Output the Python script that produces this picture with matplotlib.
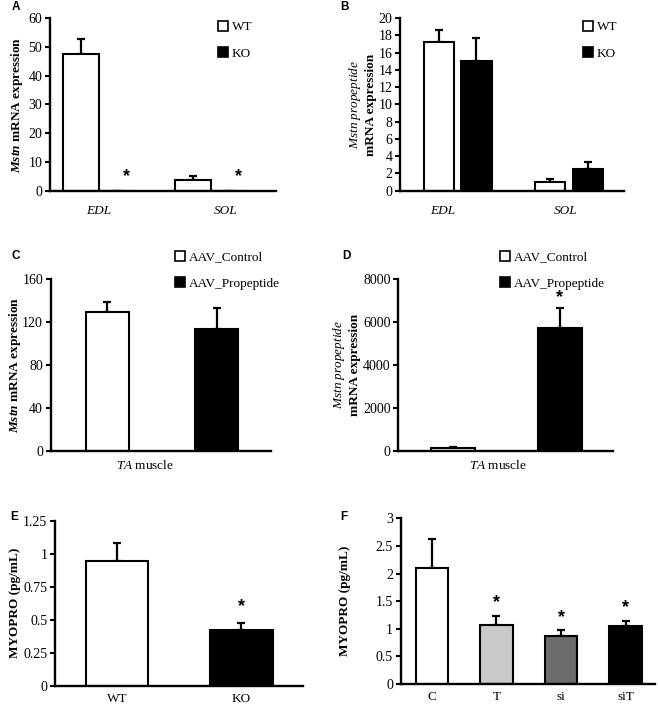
import numpy as np
import matplotlib
matplotlib.use('Agg')
import matplotlib.pyplot as plt
from matplotlib.patches import Patch

plt.rcParams['font.family'] = 'Liberation Serif'
plt.rcParams['mathtext.fontset'] = 'custom'
plt.rcParams['mathtext.rm'] = 'Liberation Serif'
plt.rcParams['mathtext.it'] = 'Liberation Serif:italic'
plt.rcParams['mathtext.bf'] = 'Liberation Serif:bold'
plt.rcParams['mathtext.bfit'] = 'Liberation Serif:italic:bold'

# panel A - Mstn mRNA, WT vs KO
a_groups = ['EDL', 'SOL']
a_wt = [47.5, 3.7]
a_wt_err = [5.2, 1.5]
a_ko = [0, 0]
a_ko_err = [0, 0]
a_stars = [True, True]

# panel B - Mstn propeptide mRNA
b_groups = ['EDL', 'SOL']
b_wt = [17.2, 1.0]
b_wt_err = [1.4, 0.4]
b_ko = [15.0, 2.5]
b_ko_err = [2.65, 0.85]

# panel C / D - TA muscle, AAV
c_names = ['AAV_Control', 'AAV_Propeptide']
c_vals = [129.5, 113]
c_err = [9.5, 20]
d_vals = [110, 5740]
d_err = [50, 905]

# panel E - MYOPRO WT / KO
e_names = ['WT', 'KO']
e_vals = [0.945, 0.422]
e_err = [0.135, 0.053]

# panel F - MYOPRO treatments
f_names = ['C', 'T', 'si', 'siT']
f_vals = [2.1, 1.06, 0.87, 1.055]
f_err = [0.52, 0.17, 0.1, 0.09]
f_colors = ['white', '#c8c8c8', '#6b6b6b', 'black']
f_stars = [False, True, True, True]

W, H = 658, 706
fig = plt.figure(figsize=(W / 100, H / 100), dpi=100)


def px_axes(x0, y0, x1, y1):
    return fig.add_axes([x0 / W, 1 - y1 / H, (x1 - x0) / W, (y1 - y0) / H])


def style(ax, ymax, step):
    for s in ['top', 'right']:
        ax.spines[s].set_visible(False)
    ax.spines['left'].set_linewidth(1.7)
    ax.spines['bottom'].set_linewidth(1.7)
    ax.set_ylim(0, ymax)
    ticks = np.arange(0, ymax + step / 2, step)
    ax.set_yticks(ticks)
    ax.set_yticklabels(['{:g}'.format(t) for t in ticks], fontsize=10)
    ax.tick_params(axis='y', direction='out', length=3.5, width=1.5, pad=2)
    ax.tick_params(axis='x', length=0, pad=6)


def bars(ax, x, vals, errs, color, width):
    ax.bar(x, vals, width, color=color, edgecolor='black', linewidth=1.5, zorder=2)
    ax.errorbar(x, vals, yerr=[np.zeros(len(vals)), errs], fmt='none', ecolor='black',
                elinewidth=1.6, capsize=3, capthick=1.6, zorder=1)


def star(ax, x, y, off):
    ax.annotate('*', (x, y), xytext=(0, off), textcoords='offset pixels',
                ha='center', va='center', fontsize=13, fontweight='bold',
                family='Liberation Sans')


def legend(ax, labels, colors, x, y):
    handles = [Patch(facecolor=c, edgecolor='black', linewidth=1.2) for c in colors]
    ax.legend(handles, labels, loc='upper left', bbox_to_anchor=(x / W, 1 - y / H),
              bbox_transform=fig.transFigure, frameon=False, fontsize=9.5,
              handlelength=0.75, handleheight=0.75, handletextpad=0.3,
              labelspacing=1.05, borderpad=0, borderaxespad=0)


def panel_letter(x, y, s):
    fig.text(x / W, 1 - y / H, s, family='Liberation Sans', fontweight='bold',
             fontsize=8.5, ha='left', va='center')


def ylab(x, y, s):
    fig.text(x / W, 1 - y / H, s, rotation=90, ha='center', va='center',
             fontsize=9.5, fontweight='bold', multialignment='center')


# ---- A
ax = px_axes(50, 18, 276, 190.7)
style(ax, 60, 10)
xa = np.arange(len(a_groups))
ax.set_xlim(-0.4375, 1.58)
bars(ax, xa - 0.16, a_wt, a_wt_err, 'white', 0.32)
bars(ax, xa + 0.16, a_ko, a_ko_err, 'black', 0.32)
for i in range(len(a_groups)):
    if a_stars[i]:
        star(ax, xa[i] + 0.245, a_ko[i] + a_ko_err[i], 14)
ax.set_xticks([0, 1.13])
ax.set_xticklabels(a_groups, fontsize=9.5, style='italic')
ax.tick_params(axis='x', pad=10)
legend(ax, ['WT', 'KO'], ['white', 'black'], 218, 21)
panel_letter(12, 7, 'A')
ylab(17, 105, r'$\mathbfit{Mstn}$ mRNA expression')

# ---- B
ax = px_axes(400, 18, 624, 190.7)
style(ax, 20, 2)
xb = np.arange(len(b_groups))
ax.set_xlim(-0.516, 1.493)
bars(ax, xb - 0.17, b_wt, b_wt_err, 'white', 0.27)
bars(ax, xb + 0.17, b_ko, b_ko_err, 'black', 0.27)
ax.set_xticks([-0.13, 0.973])
ax.set_xticklabels(b_groups, fontsize=9.5, style='italic')
ax.tick_params(axis='x', pad=10)
legend(ax, ['WT', 'KO'], ['white', 'black'], 583, 21)
panel_letter(340, 7, 'B')
ylab(362, 105, r'$\mathit{Mstn\ propeptide}$' + '\nmRNA expression')

# ---- C
ax = px_axes(50.7, 279, 270.7, 450.7)
style(ax, 160, 40)
xc = np.arange(len(c_names))
ax.set_xlim(-0.521, 1.497)
bars(ax, xc, c_vals, c_err, ['white', 'black'], 0.4)
ax.set_xticks([0.344])
ax.set_xticklabels([r'$\mathit{TA}$ muscle'], fontsize=9.5)
legend(ax, c_names, ['white', 'black'], 175, 251)
panel_letter(12, 256, 'C')
ylab(15, 365, r'$\mathbfit{Mstn}$ mRNA expression')

# ---- D
ax = px_axes(398.3, 279.3, 612.7, 450.7)
style(ax, 8000, 2000)
xd = np.arange(len(c_names))
ax.set_xlim(-0.511, 1.4925)
bars(ax, xd, d_vals, d_err, ['white', 'black'], 0.41)
star(ax, xd[1], d_vals[1] + d_err[1], 11)
ax.set_xticks([0.42])
ax.set_xticklabels([r'$\mathit{TA}$ muscle'], fontsize=9.5)
legend(ax, c_names, ['white', 'black'], 500, 251)
panel_letter(342, 256, 'D')
ylab(346, 365, r'$\mathit{Mstn\ propeptide}$' + '\nmRNA expression')

# ---- E
ax = px_axes(55, 520.7, 303, 685.7)
style(ax, 1.25, 0.25)
xe = np.arange(len(e_names))
ax.set_xlim(-0.498, 1.494)
bars(ax, xe, e_vals, e_err, ['white', 'black'], 0.5)
star(ax, xe[1], e_vals[1] + e_err[1], 16)
ax.set_xticks(xe)
ax.set_xticklabels(e_names, fontsize=9.5)
ax.tick_params(axis='x', pad=5)
panel_letter(10, 517, 'E')
ylab(15, 603, 'MYOPRO (pg/mL)')

# ---- F
ax = px_axes(400.7, 518.3, 655, 684)
style(ax, 3, 0.5)
xf = np.arange(len(f_names))
ax.set_xlim(-0.485, 3.457)
bars(ax, xf, f_vals, f_err, f_colors, 0.5)
for i in range(len(f_names)):
    if f_stars[i]:
        star(ax, xf[i], f_vals[i] + f_err[i], 13)
ax.set_xticks(xf)
ax.set_xticklabels(f_names, fontsize=9.5)
ax.tick_params(axis='x', pad=5)
panel_letter(340, 517, 'F')
ylab(345, 601, 'MYOPRO (pg/mL)')

fig.savefig('out.png', dpi=100)
